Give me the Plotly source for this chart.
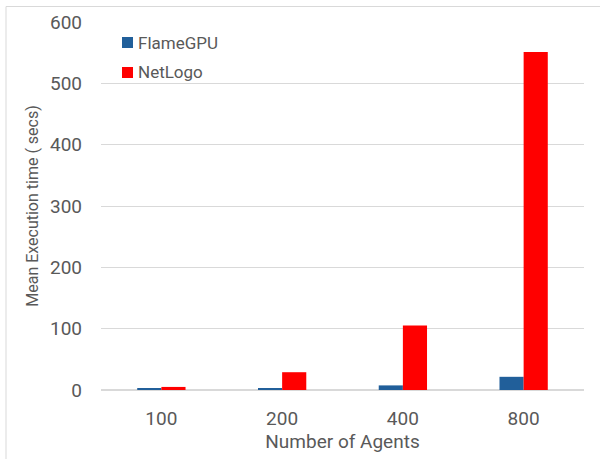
import plotly.graph_objects as go

categories = ["100", "200", "400", "800"]
flamegpu = [3, 3, 7.5, 21.5]
netlogo = [5, 29, 105, 551]
y_ticks = [0, 100, 200, 300, 400, 500, 600]
series_names = ["FlameGPU", "NetLogo"]
series_colors = ["#215F9A", "#FF0000"]

W, H = 600, 459
ml, mr, mt, mb = 101, 16, 22, 69

fig = go.Figure()
for name, vals, col in zip(series_names, [flamegpu, netlogo], series_colors):
    fig.add_trace(go.Bar(name=name, x=categories, y=vals,
                         marker=dict(color=col, line=dict(width=0))))

font_fam = "Roboto, Open Sans, sans-serif"
grey = "#595959"
fig.update_layout(
    width=W, height=H,
    margin=dict(l=ml, r=mr, t=mt, b=mb, autoexpand=False),
    paper_bgcolor="white", plot_bgcolor="white",
    barmode="group", bargap=0.6, bargroupgap=0,
    font=dict(family=font_fam, color=grey),
    showlegend=False,
    xaxis=dict(title=dict(text="Number of Agents", font=dict(size=19, color=grey), standoff=0),
               tickfont=dict(size=19, color=grey), showline=True, linecolor="#d9d9d9",
               linewidth=1, ticks="", showgrid=False, automargin=False, ticklabelstandoff=11),
    yaxis=dict(title=dict(text="Mean Execution time ( secs)", font=dict(size=16, color=grey), standoff=7),
               range=[0, 600], tickvals=y_ticks, tickfont=dict(size=19, color=grey),
               showgrid=True, gridcolor="#d9d9d9", gridwidth=1, zeroline=True, zerolinecolor="#d9d9d9",
               ticks="", showline=False, automargin=False, ticklabelstandoff=18),
)

pw = W - ml - mr
ph = H - mt - mb
def px_x(p):
    return (p - ml) / pw
def px_y(p):
    return (H - mb - p) / ph

# outer chart border (left and top edges visible)
fig.add_shape(type="line", xref="paper", yref="paper",
              x0=px_x(6), x1=px_x(6), y0=px_y(470), y1=px_y(6.5),
              line=dict(color="#d9d9d9", width=1), layer="below")
fig.add_shape(type="line", xref="paper", yref="paper",
              x0=px_x(6), x1=px_x(620), y0=px_y(6.5), y1=px_y(6.5),
              line=dict(color="#d9d9d9", width=1), layer="below")

# legend (drawn manually to match spacing)
for i, (name, col) in enumerate(zip(series_names, series_colors)):
    cy = 42.5 + 30 * i
    fig.add_shape(type="rect", xref="paper", yref="paper",
                  x0=px_x(122), x1=px_x(133), y0=px_y(cy + 5.5), y1=px_y(cy - 5.5),
                  fillcolor=col, line=dict(width=0))
    fig.add_annotation(xref="paper", yref="paper", x=px_x(136), y=px_y(cy),
                       xanchor="left", yanchor="middle", text=name, showarrow=False,
                       font=dict(size=17, color=grey))

fig.write_html("out.html", config={"displayModeBar": False},
               post_script="document.body.style.margin='0';document.body.style.padding='0';")
